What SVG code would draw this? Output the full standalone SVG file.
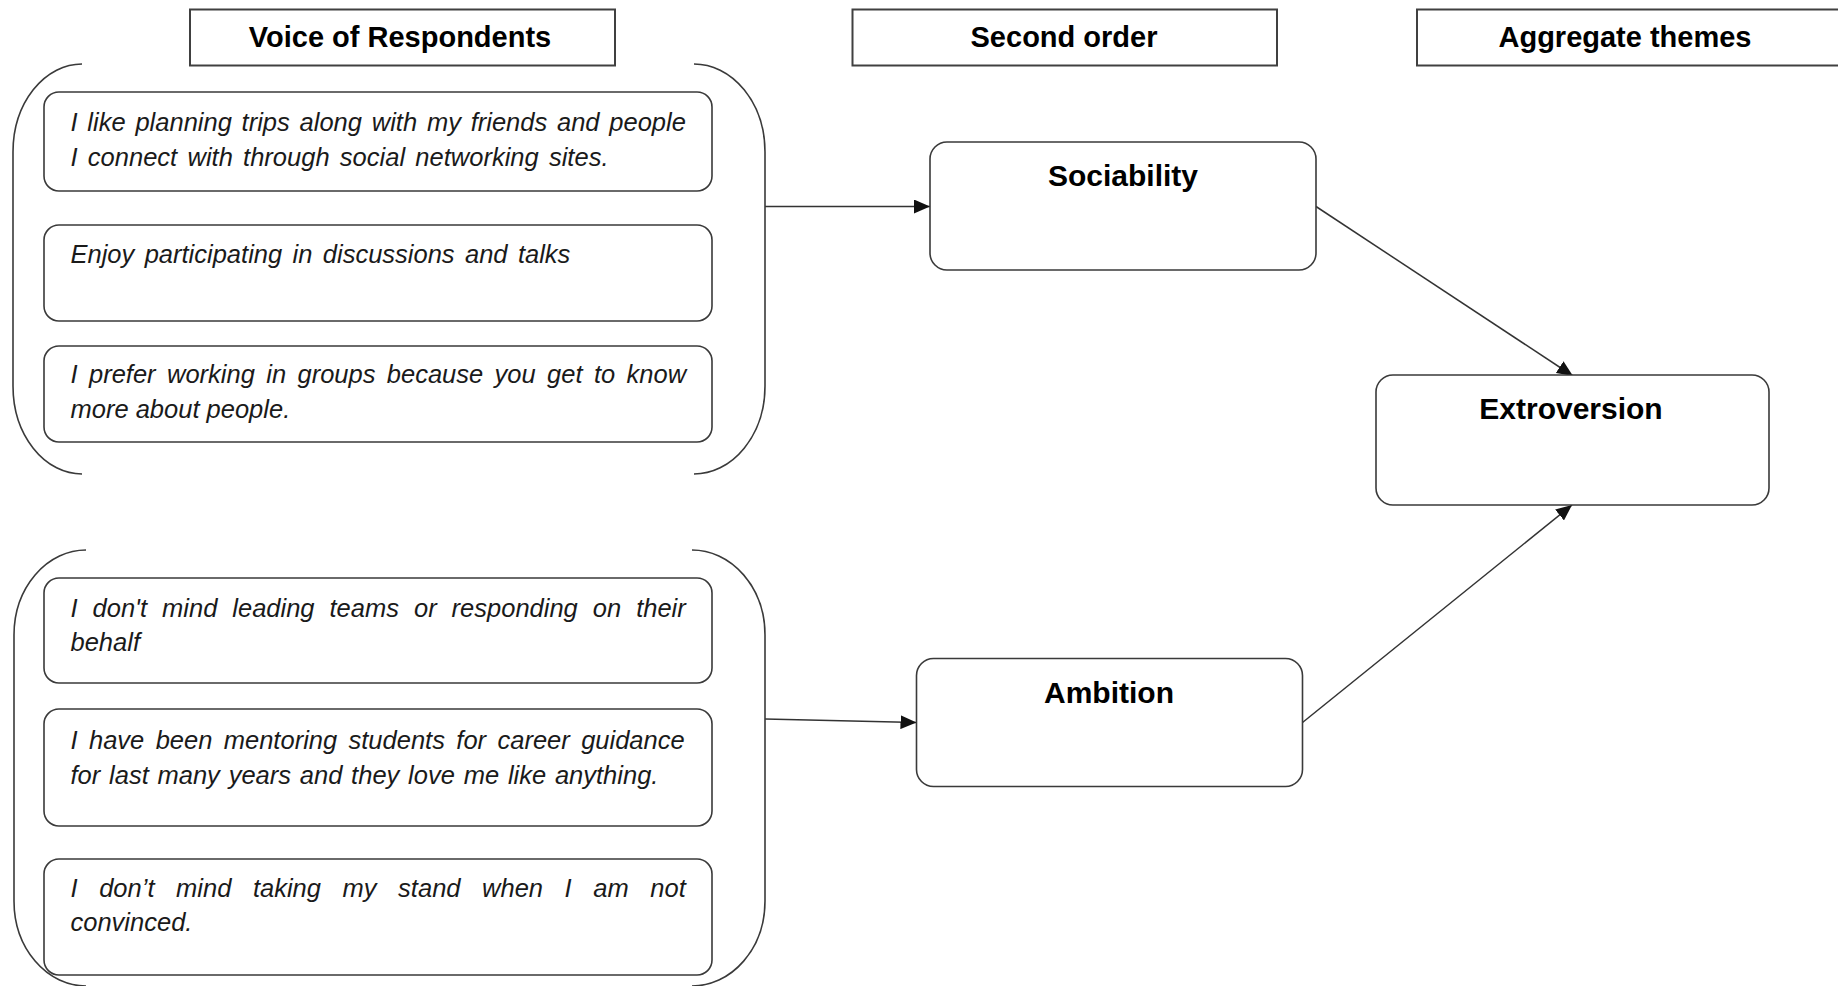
<svg xmlns="http://www.w3.org/2000/svg" width="1838" height="986" viewBox="0 0 1838 986">
<style>
  .hdr { fill: #ffffff; stroke: #404040; stroke-width: 2; }
  .hdr-t { font-family: "Liberation Sans", Arial, sans-serif; font-weight: bold; font-size: 29px; fill: #000; text-anchor: middle; }
  .quote { fill: #ffffff; stroke: #3a3a3a; stroke-width: 1.6; }
  .q-t { font-family: "Liberation Sans", Arial, sans-serif; font-style: italic; font-size: 25.5px; fill: #1a1a1a; }
  .node { fill: #ffffff; stroke: #3a3a3a; stroke-width: 1.6; }
  .node-t { font-family: "Liberation Sans", Arial, sans-serif; font-weight: bold; font-size: 30px; fill: #000; text-anchor: middle; }
  .brace { fill: none; stroke: #3a3a3a; stroke-width: 1.6; }
  .conn { fill: none; stroke: #333333; stroke-width: 1.5; marker-end: url(#arrow); }
</style>
<defs>
  <marker id="arrow" markerUnits="userSpaceOnUse" markerWidth="16" markerHeight="14" refX="16" refY="7" orient="auto" viewBox="0 0 16 14">
    <path d="M0,0 L16,7 L0,14 z" fill="#111111"/>
  </marker>
</defs>
<rect width="1838" height="986" fill="#ffffff"/>

<g id="connectors">
  <line class="conn" x1="765" y1="206.5" x2="930" y2="206.5"/>
  <line class="conn" x1="765" y1="719" x2="916.5" y2="722.5"/>
  <line class="conn" x1="1316" y1="206.5" x2="1573" y2="376"/>
  <line class="conn" x1="1302.5" y1="722.5" x2="1572" y2="505"/>
</g>

<g id="header-voice">
  <rect class="hdr" x="190" y="9.5" width="425" height="56"/>
  <text class="hdr-t" x="400" y="47">Voice of Respondents</text>
</g>
<g id="header-second">
  <rect class="hdr" x="852.5" y="9.5" width="424.5" height="56"/>
  <text class="hdr-t" x="1064" y="47">Second order</text>
</g>
<g id="header-aggregate">
  <rect class="hdr" x="1417" y="9.5" width="430" height="56"/>
  <text class="hdr-t" x="1625" y="47">Aggregate themes</text>
</g>

<g id="bracket-sociability">
  <path class="brace" d="M82,64 A69,88 0 0 0 13,152 L13,386 A69,88 0 0 0 82,474"/>
  <path class="brace" d="M694,64 A71,88 0 0 1 765,152 L765,386 A71,88 0 0 1 694,474"/>
</g>
<g id="bracket-ambition">
  <path class="brace" d="M86,550 A72,85 0 0 0 14,635 L14,901 A72,85 0 0 0 86,986"/>
  <path class="brace" d="M692,550 A73,85 0 0 1 765,635 L765,901 A73,85 0 0 1 692,986"/>
</g>

<g id="quote-1">
  <rect class="quote" x="44" y="92" width="668" height="99" rx="15"/>
  <text class="q-t" x="70.5" y="131" word-spacing="2.7">I like planning trips along with my friends and people</text>
  <text class="q-t" x="70.5" y="166" word-spacing="3.2">I connect with through social networking sites.</text>
</g>
<g id="quote-2">
  <rect class="quote" x="44" y="225" width="668" height="96" rx="15"/>
  <text class="q-t" x="70.5" y="263" word-spacing="3.3">Enjoy participating in discussions and talks</text>
</g>
<g id="quote-3">
  <rect class="quote" x="44" y="346" width="668" height="96" rx="15"/>
  <text class="q-t" x="70.5" y="383" word-spacing="4.3">I prefer working in groups because you get to know</text>
  <text class="q-t" x="70.5" y="418">more about people.</text>
</g>
<g id="quote-4">
  <rect class="quote" x="44" y="578" width="668" height="105" rx="15"/>
  <text class="q-t" x="70.5" y="617" word-spacing="7.9">I don't mind leading teams or responding on their</text>
  <text class="q-t" x="70.5" y="651">behalf</text>
</g>
<g id="quote-5">
  <rect class="quote" x="44" y="709" width="668" height="117" rx="15"/>
  <text class="q-t" x="70.5" y="749" word-spacing="4.3">I have been mentoring students for career guidance</text>
  <text class="q-t" x="70.5" y="784" word-spacing="1.7">for last many years and they love me like anything.</text>
</g>
<g id="quote-6">
  <rect class="quote" x="44" y="859" width="668" height="116" rx="15"/>
  <text class="q-t" x="70.5" y="897" word-spacing="14.5">I don’t mind taking my stand when I am not</text>
  <text class="q-t" x="70.5" y="931">convinced.</text>
</g>

<g id="node-sociability">
  <rect class="node" x="930" y="142" width="386" height="128" rx="17"/>
  <text class="node-t" x="1123" y="186">Sociability</text>
</g>
<g id="node-ambition">
  <rect class="node" x="916.5" y="658.5" width="386" height="128" rx="17"/>
  <text class="node-t" x="1109" y="703">Ambition</text>
</g>
<g id="node-extroversion">
  <rect class="node" x="1376" y="375" width="393" height="130" rx="17"/>
  <text class="node-t" x="1571" y="419">Extroversion</text>
</g>
</svg>
